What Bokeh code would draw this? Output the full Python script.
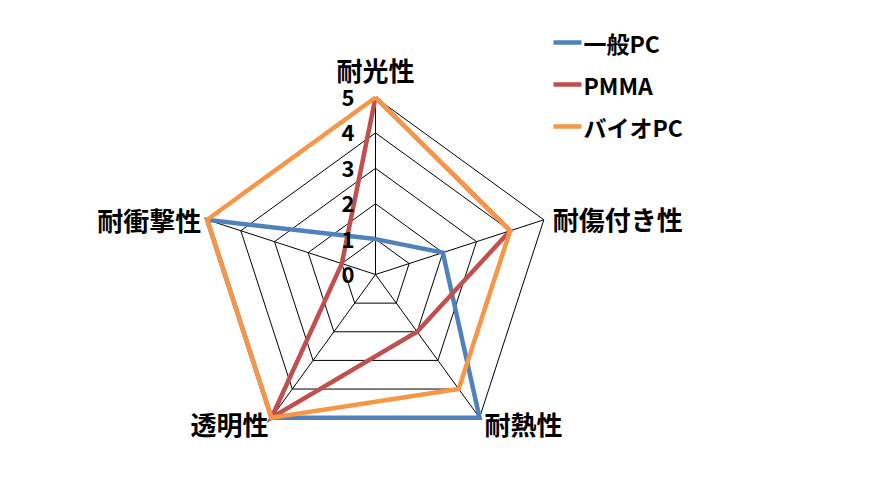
import numpy as np
from bokeh.plotting import figure
from bokeh.models import Range1d, ColumnDataSource
from bokeh.core.properties import value
from bokeh.embed import file_html
from bokeh.resources import INLINE

# ---- data ----
categories = ["耐光性", "耐傷付き性", "耐熱性", "透明性", "耐衝撃性"]
series_names = ["一般PC", "PMMA", "バイオPC"]
general_pc = [1, 2, 5, 5, 5]
pmma = [5, 4, 2, 5, 1]
bio_pc = [5, 4, 4, 5, 5]
tick_values = [0, 1, 2, 3, 4, 5]
tick_labels = ["0", "1", "2", "3", "4", "5"]
colors = ["#4F81BD", "#C0504D", "#F79646"]

# ---- geometry (image pixels) ----
W, H = 854, 473
CX, CY, U = 375.0, 274.0, 35.4
FONT = "Noto Sans CJK JP"


def X(px):
    return (px - CX) / U


def Y(py):
    return (CY - py) / U


p = figure(width=W, height=H, output_backend="svg", toolbar_location=None,
           x_range=Range1d(X(0), X(W)), y_range=Range1d(Y(H), Y(0)),
           min_border=0)
p.axis.visible = False
p.grid.visible = False
p.outline_line_color = None
p.background_fill_color = "white"

n = len(categories)
angles = np.deg2rad(90 - 72 * np.arange(n))
maxv = tick_values[-1]

# grid rings
for r in tick_values[1:]:
    xs = list(r * np.cos(angles)) + [r * np.cos(angles[0])]
    ys = list(r * np.sin(angles)) + [r * np.sin(angles[0])]
    p.line(xs, ys, line_color="black", line_width=1)
# spokes
for a in angles:
    p.line([0, maxv * np.cos(a)], [0, maxv * np.sin(a)], line_color="black", line_width=1)

# series
for vals, c in zip([general_pc, pmma, bio_pc], colors):
    v = np.array(vals, dtype=float)
    xs = list(v * np.cos(angles)) + [v[0] * np.cos(angles[0])]
    ys = list(v * np.sin(angles)) + [v[0] * np.sin(angles[0])]
    p.line(xs, ys, line_color=c, line_width=4.5, line_join="miter")

# tick labels
p.text(x=[X(354)] * len(tick_values), y=tick_values, text=tick_labels,
       text_align="right", text_baseline="middle", text_font=value(FONT),
       text_font_style="bold", text_font_size="22px", text_color="black")

# category labels: offsets in px from outer vertex
offs = [(0, -28, "center"), (9, -1, "left"), (5, 6, "left"), (-3, 6, "right"), (-6, 0, "right")]
lx, ly, la = [], [], []
for a, (dx, dy, al) in zip(angles, offs):
    vx = CX + maxv * U * np.cos(a)
    vy = CY - maxv * U * np.sin(a)
    lx.append(X(vx + dx)); ly.append(Y(vy + dy)); la.append(al)
src = ColumnDataSource(dict(x=lx, y=ly, t=categories, a=la))
p.text(x="x", y="y", text="t", text_align="a", source=src, text_baseline="middle",
       text_font=value(FONT), text_font_style="bold", text_font_size="26px", text_color="black")

# legend
leg_y = [42, 84, 126]
for name, c, yy in zip(series_names, colors, leg_y):
    p.line([X(553), X(581)], [Y(yy), Y(yy)], line_color=c, line_width=4.5)
    p.text(x=[X(583)], y=[Y(yy)], text=[name], text_align="left", text_baseline="middle",
           text_font=value(FONT), text_font_style="bold", text_font_size="23px", text_color="black")

open("out.html", "w").write(file_html(p, INLINE))
